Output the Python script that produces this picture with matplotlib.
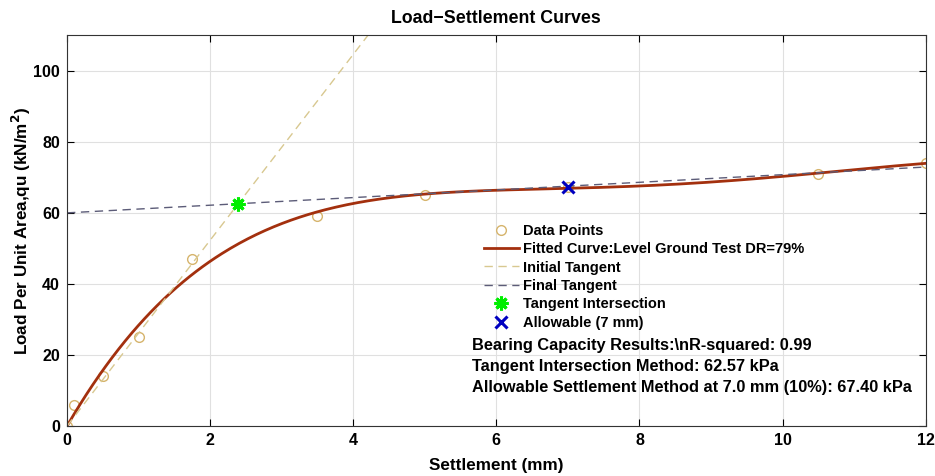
import numpy as np
import matplotlib.pyplot as plt

plt.rcParams['font.family'] = ['Liberation Sans', 'DejaVu Sans']
plt.rcParams['font.weight'] = 'bold'

# measured load-settlement points
settlement = [0.0, 0.1, 0.5, 1.0, 1.75, 3.5, 5.0, 7.0, 10.5, 12.0]
load = [0.0, 6.0, 14.0, 25.0, 47.0, 59.0, 65.0, 67.4, 71.0, 74.0]

# tangent lines (intercept, slope) and result points
init_tangent = (0.0, 26.15)
final_tangent = (60.0, 1.075)
intersect_x, intersect_q = 2.39, 62.57
allow_x, allow_q = 7.0, 67.40

# 5th order polynomial through the origin
x = np.array(settlement)
y = np.array(load)
A = np.vstack([x ** k for k in range(1, 6)]).T
coef = np.linalg.lstsq(A, y, rcond=None)[0]
xs = np.linspace(0, 12, 400)
ys = sum(coef[k - 1] * xs ** k for k in range(1, 6))

fig = plt.figure(figsize=(9.35, 4.76), dpi=100)
ax = fig.add_axes([0.0717, 0.105, 0.9183, 0.821])

ax.plot(x, y, 'o', mfc='none', mec='#d6b46c', ms=7, mew=1.0, label='Data Points')
ax.plot(xs, ys, '-', color='#a3300e', lw=2, label='Fitted Curve:Level Ground Test DR=79%')
ax.plot(xs, init_tangent[0] + init_tangent[1] * xs, '--', color='#d8c890', lw=1, dashes=(6, 4),
        label='Initial Tangent')
ax.plot(xs, final_tangent[0] + final_tangent[1] * xs, '--', color='#5c5c78', lw=1, dashes=(6, 4),
        label='Final Tangent')
ax.plot(intersect_x, intersect_q, marker=(8, 2, 0), ls='none', color='#00ee00', ms=10, mew=2.2,
        label='Tangent Intersection')
ax.plot(allow_x, allow_q, 'x', color='#0000c0', ms=8, mew=2.2, label='Allowable (7 mm)')

ax.set_xlim(0, 12)
ax.set_ylim(0, 110)
ax.set_xticks(range(0, 13, 2))
ax.set_yticks(range(0, 101, 20))
ax.grid(True, color='#e0e0e0', lw=0.8)
ax.tick_params(direction='in', top=True, right=True, labelsize=11.5, length=5, pad=5)
for s in ax.spines.values():
    s.set_color('#333333')

ax.set_title('Load\u2212Settlement Curves', fontsize=12.8, fontweight='bold', pad=9)
ax.set_xlabel('Settlement (mm)', fontsize=12.3, fontweight='bold', labelpad=7)
ax.set_ylabel('Load Per Unit Area,qu (kN/m$^2$)', fontsize=12.3, fontweight='bold', labelpad=0)

leg = ax.legend(loc='upper left', bbox_to_anchor=(0.47, 0.551), frameon=False,
                fontsize=10.5, handlelength=2.4, handletextpad=0.3, labelspacing=0.3)

ax.text(0.4715, 0.224,
        'Bearing Capacity Results:\\nR-squared: 0.99\n'
        'Tangent Intersection Method: 62.57 kPa\n'
        'Allowable Settlement Method at 7.0 mm (10%): 67.40 kPa',
        transform=ax.transAxes, fontsize=11.8, fontweight='bold', va='top', linespacing=1.5)

fig.savefig('out.png', dpi=100)
